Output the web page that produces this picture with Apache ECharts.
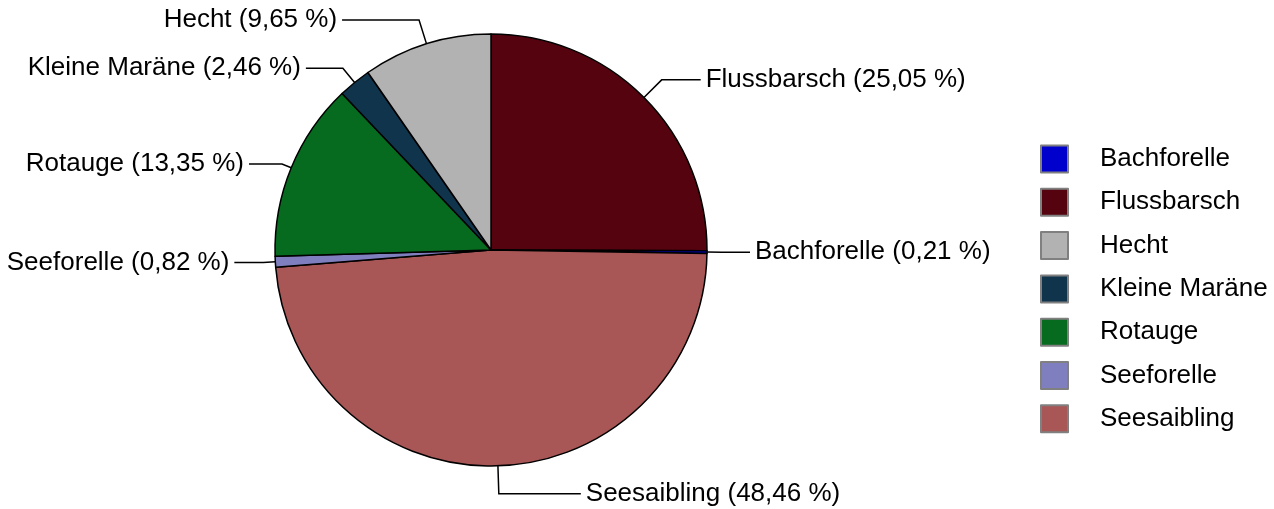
<!DOCTYPE html>
<html>
<head>
<meta charset="utf-8">
<script src="https://cdn.jsdelivr.net/npm/echarts@6/dist/echarts.min.js"></script>
<style>html,body{margin:0;padding:0;background:#fff;}#c{width:1274px;height:509px;}</style>
</head>
<body>
<div id="c"></div>
<script>
// Pie slices in clockwise order starting at 12 o'clock
const names = ['Flussbarsch', 'Bachforelle', 'Seesaibling', 'Seeforelle', 'Rotauge', 'Kleine Maräne', 'Hecht'];
const values = [25.05, 0.21, 48.46, 0.82, 13.35, 2.46, 9.65];
const colors = ['#55030e', '#0000cc', '#a85656', '#7f7fbf', '#066b1f', '#10344c', '#b2b2b2'];
const legendOrder = ['Bachforelle', 'Flussbarsch', 'Hecht', 'Kleine Maräne', 'Rotauge', 'Seeforelle', 'Seesaibling'];
// label line lengths (first radial segment, second horizontal segment)
const lineLen = [25, 15, 28, 12, 10, 18.5, 25];
const lineLen2 = [39, 28, 82, 29, 33, 37, 77];

const fmt = v => v.toFixed(2).replace('.', ',');
const data = names.map((n, i) => ({
  name: n,
  value: values[i],
  itemStyle: { color: colors[i] },
  labelLine: { length: lineLen[i], length2: lineLen2[i] }
}));

const FONT = 'Liberation Sans, Arial, sans-serif';
const chart = echarts.init(document.getElementById('c'), null, { renderer: 'canvas' });
chart.setOption({
  animation: false,
  backgroundColor: '#ffffff',
  textStyle: { fontFamily: FONT },
  legend: {
    orient: 'vertical',
    left: 1035,
    top: 136,
    data: legendOrder,
    itemWidth: 27,
    itemHeight: 27,
    itemGap: 7.3,
    icon: 'rect',
    selectedMode: false,
    itemStyle: { borderColor: '#808080', borderWidth: 2 },
    textStyle: { fontSize: 26, lineHeight: 28, color: '#000', fontFamily: FONT, padding: [8, 0, 0, 27] }
  },
  series: [{
    type: 'pie',
    center: [491, 250],
    radius: 216,
    startAngle: 90,
    clockwise: true,
    avoidLabelOverlap: false,
    minShowLabelAngle: 0,
    itemStyle: { borderColor: '#000', borderWidth: 1.5 },
    label: {
      show: true,
      position: 'outside',
      color: '#000',
      fontSize: 26,
      fontFamily: FONT,
      formatter: p => p.name + ' (' + fmt(p.value) + ' %)'
    },
    labelLine: { show: true, lineStyle: { color: '#000', width: 1.5 } },
    emphasis: { disabled: true },
    data: data
  }]
});
</script>
</body>
</html>
